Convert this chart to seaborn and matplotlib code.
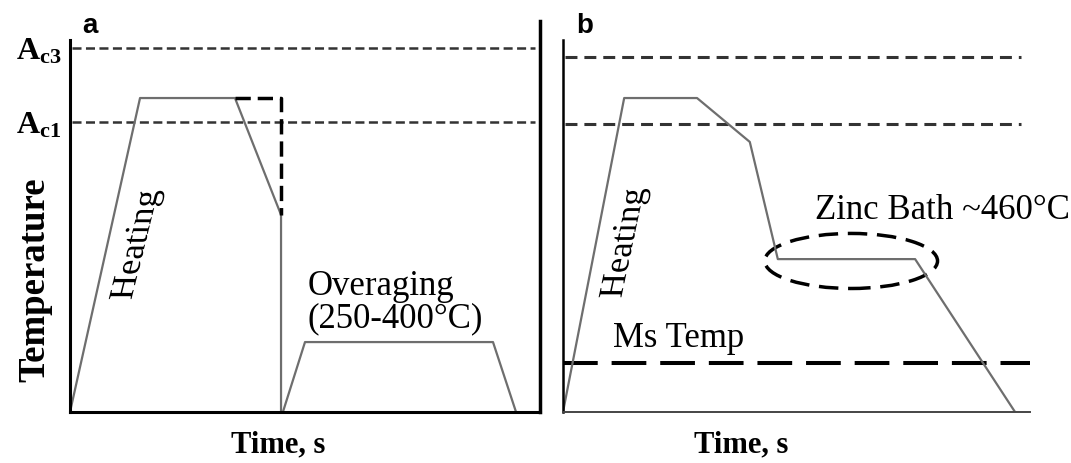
import matplotlib
matplotlib.use("Agg")
import matplotlib.pyplot as plt
from matplotlib.patches import Ellipse, PathPatch
from matplotlib.textpath import TextPath
from matplotlib.font_manager import FontProperties
from matplotlib.transforms import Affine2D, ScaledTranslation
import seaborn as sns

# ---- Panel a: intercritical anneal, quench, overaging (normalised units) ----
time_a_anneal = [0, 14.9, 35.1, 44.9, 44.9]
temp_a_anneal = [0, 84.4, 84.4, 53.0, 0]
time_a_overage = [45.3, 50.0, 90.0, 94.9]
temp_a_overage = [0, 18.8, 18.8, 0]
time_a_alt = [35.1, 44.9, 44.9]
temp_a_alt = [84.4, 84.4, 53.0]
ac3_a, ac1_a = 97.8, 78.0

# ---- Panel b: hot-dip galvanizing route ----
time_b = [0, 13.1, 28.7, 40.0, 46.0, 75.4, 96.8]
temp_b = [0, 84.4, 84.4, 72.6, 41.1, 41.1, 0]
ac3_b, ac1_b = 95.4, 77.4
ms_temp = 13.2
zinc_centre = (61.7, 40.6)
zinc_size = (37.0, 14.8)

sns.set_theme(style="white")
plt.rcParams["font.family"] = ["Liberation Serif", "DejaVu Serif"]
plt.rcParams["mathtext.fontset"] = "custom"
plt.rcParams["mathtext.rm"] = "Liberation Serif"
plt.rcParams["mathtext.bf"] = "Liberation Serif:bold"
plt.rcParams["mathtext.it"] = "Liberation Serif:italic"
plt.rcParams["lines.scale_dashes"] = False
plt.rcParams["text.color"] = "black"
plt.rcParams["axes.labelcolor"] = "black"
plt.rcParams["ytick.color"] = "black"

curve_col = "#6e6e6e"
fig = plt.figure(figsize=(10.71, 4.63), dpi=100)
W, H = 1071, 463
ax_a = fig.add_axes([70 / W, (H - 412) / H, 470 / W, 390.6 / H])
ax_b = fig.add_axes([563 / W, (H - 412) / H, 467 / W, 390.6 / H])


def slanted_label(ax, x, y, text, size, shear_deg):
    """Vertical text whose baseline leans to the right (sheared, glyphs upright)."""
    tp = TextPath((0, 0), text, size=size,
                  prop=FontProperties(family="Liberation Serif"))
    ext = tp.get_extents()
    cx, cy = (ext.x0 + ext.x1) / 2, (ext.y0 + ext.y1) / 2
    tr = (Affine2D().translate(-cx, -cy)
          .scale(fig.dpi / 72.0)
          .rotate_deg(90)
          .skew_deg(shear_deg, 0)
          + ScaledTranslation(x, y, ax.transData))
    ax.add_patch(PathPatch(tp, transform=tr, facecolor="black",
                           edgecolor="none", clip_on=False))


for ax in (ax_a, ax_b):
    ax.set_xlim(0, 100)
    ax.set_ylim(0, 105)
    ax.set_xticks([])
    ax.tick_params(axis="y", length=0)
    ax.spines["top"].set_visible(False)
    ax.spines["left"].set_bounds(0, 100)

# panel a frame
ax_a.spines["left"].set_linewidth(2.2)
ax_a.spines["bottom"].set_linewidth(2.2)
ax_a.spines["right"].set_linewidth(2.5)
for s in ("left", "bottom", "right"):
    ax_a.spines[s].set_color("black")

# panel b frame
ax_b.spines["right"].set_visible(False)
ax_b.spines["left"].set_linewidth(1.8)
ax_b.spines["left"].set_color("black")
ax_b.spines["bottom"].set_linewidth(1.4)
ax_b.spines["bottom"].set_color("#454545")
ax_b.set_yticks([])

# ---- panel a ----
ax_a.hlines([ac3_a, ac1_a], 0.4, 99.0, colors="#333333", linewidth=1.8,
            linestyles=[(0, (6.5, 3.2))])
sns.lineplot(x=time_a_anneal, y=temp_a_anneal, sort=False, estimator=None,
             color=curve_col, linewidth=1.6, ax=ax_a)
sns.lineplot(x=time_a_overage, y=temp_a_overage, sort=False, estimator=None,
             color=curve_col, linewidth=1.6, ax=ax_a)
ax_a.plot(time_a_alt, temp_a_alt, color="black", linewidth=2.5,
          linestyle=(0, (11, 5)))

ax_a.set_yticks([ac1_a, ac3_a],
                labels=[r"$\mathbf{A_{c1}}$", r"$\mathbf{A_{c3}}$"])
ax_a.tick_params(axis="y", labelsize=23, pad=6, labelcolor="black")

slanted_label(ax_a, 14.3, 44.9, "Heating", 25, 14)
ax_a.text(50.6, 20.5, "Overaging\n(250-400°C)", fontsize=25,
          ha="left", va="bottom", linespacing=1.0)

ax_a.set_ylabel("Temperature", fontsize=26.5, fontweight="bold",
                va="center")
ax_a.yaxis.set_label_coords(-0.075, 0.338)
ax_a.text(0.443, -0.0845, "Time, s", transform=ax_a.transAxes,
          fontsize=22, fontweight="bold", ha="center", va="center")

# ---- panel b ----
ax_b.hlines([ac3_b, ac1_b], 0.4, 98.0, colors="#333333", linewidth=2.2,
            linestyles=[(0, (8.6, 5.0))])
ax_b.hlines(ms_temp, 0, 100, colors="black", linewidth=2.9,
            linestyles=[(0, (25, 10))])
sns.lineplot(x=time_b, y=temp_b, sort=False, estimator=None,
             color=curve_col, linewidth=1.6, ax=ax_b)
zinc = Ellipse(zinc_centre, zinc_size[0], zinc_size[1], fill=False,
               edgecolor="black", linewidth=2.5, linestyle=(0, (14, 7)))
ax_b.add_patch(zinc)

slanted_label(ax_b, 13.3, 45.4, "Heating", 25, 12)
ax_b.text(54.0, 54.3, "Zinc Bath ~460°C", fontsize=25,
          ha="left", va="center")
ax_b.text(10.7, 17.5, "Ms Temp", fontsize=25, ha="left", va="baseline")

ax_b.text(0.381, -0.0845, "Time, s", transform=ax_b.transAxes,
          fontsize=22, fontweight="bold", ha="center", va="center")

# panel letters
fig.text(82 / W, 1 - 33 / H, "a", fontsize=20, fontweight="bold",
         family="Liberation Sans", ha="left", va="baseline")
fig.text(576 / W, 1 - 33 / H, "b", fontsize=20, fontweight="bold",
         family="Liberation Sans", ha="left", va="baseline")

fig.savefig("out.png", dpi=100)
